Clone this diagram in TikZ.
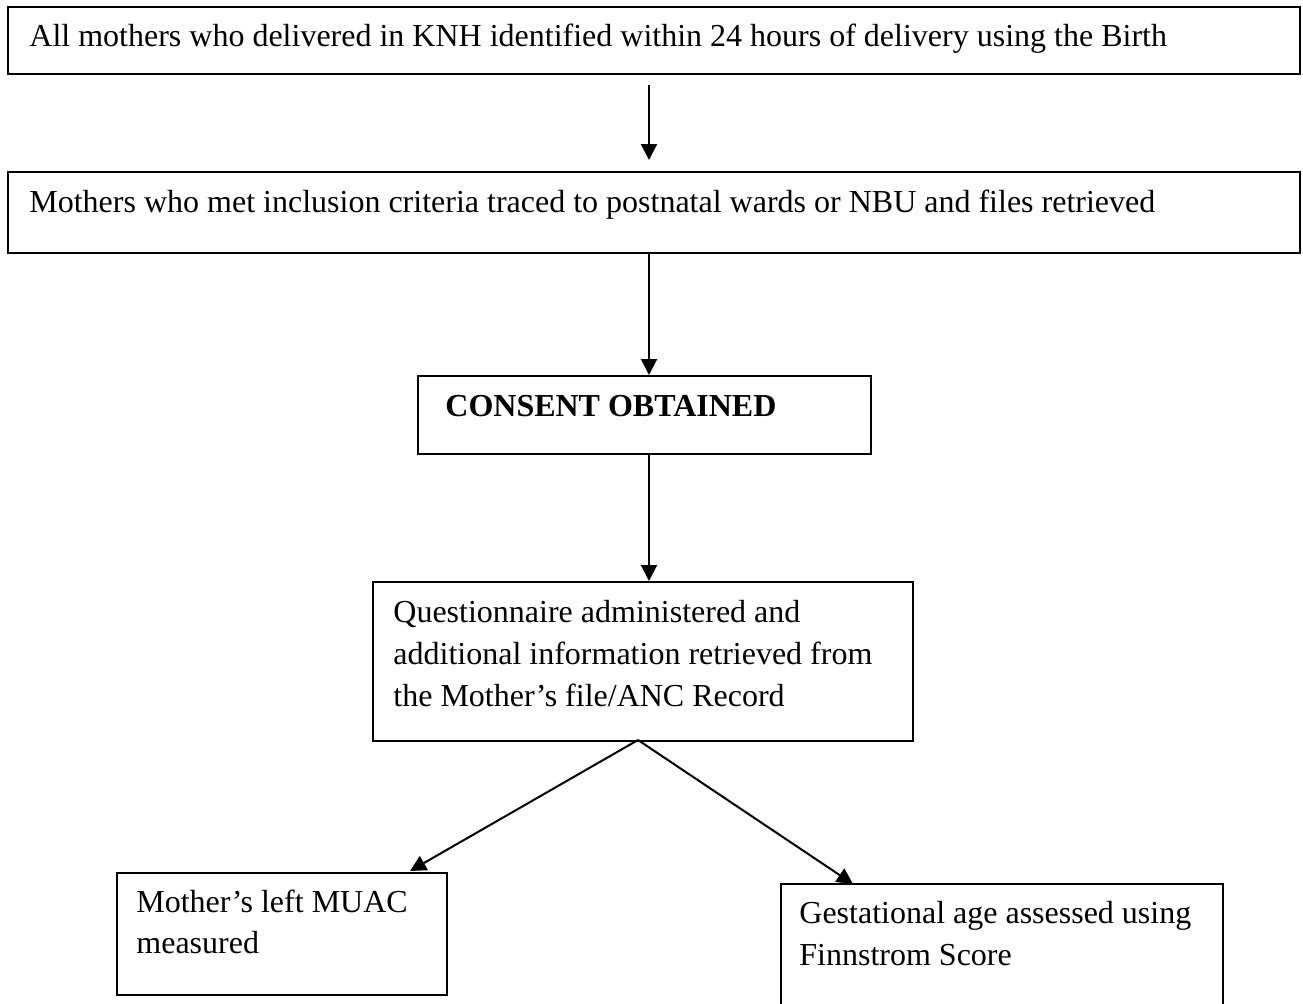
\documentclass[tikz,border=0pt]{standalone}
\usepackage{fontspec}
\setmainfont{Liberation Serif}
\usetikzlibrary{arrows.meta}
\tikzset{
  box/.style={draw, line width=1pt, anchor=north west, inner sep=0pt, fill=none},
  txt/.style={anchor=base west, inner sep=0pt, font=\fontsize{16}{21}\selectfont},
  conn/.style={line width=1pt, -{Triangle[width=8pt,length=8pt]}},
}
\begin{document}
\begin{tikzpicture}[x=0.5pt,y=-0.5pt]
\useasboundingbox (0,0) rectangle (1303,1003);
% boxes
\node[box, minimum width=646pt, minimum height=33.5pt] (b1) at (7,6) {};
\node[box, minimum width=646pt, minimum height=40.5pt] (b2) at (7,171) {};
\node[box, minimum width=226.5pt, minimum height=39pt] (b3) at (417,375) {};
\node[box, minimum width=270pt, minimum height=79.5pt] (b4) at (372,581) {};
\node[box, minimum width=165pt, minimum height=61pt] (b5) at (116,872) {};
\node[box, minimum width=221pt, minimum height=63.5pt] (b6) at (780,883) {};
% texts
\node[txt] (t1) at (29,46) {All mothers who delivered in KNH identified within 24 hours of delivery using the Birth};
\node[txt] (t2) at (29,212) {Mothers who met inclusion criteria traced to postnatal wards or NBU and files retrieved};
\node[txt, font=\fontsize{16}{21}\selectfont\bfseries] (t3) at (445,416) {CONSENT OBTAINED};
\node[txt] (t4a) at (393,622) {Questionnaire administered and};
\node[txt] (t4b) at (393,664) {additional information retrieved from};
\node[txt] (t4c) at (393,706) {the Mother’s file/ANC Record};
\node[txt] (t5a) at (136,912) {Mother’s left MUAC};
\node[txt] (t5b) at (136,953) {measured};
\node[txt] (t6a) at (799,923) {Gestational age assessed using};
\node[txt] (t6b) at (799,965) {Finnstrom Score};
% connector anchors
\coordinate (a1s) at (649,85);
\coordinate (a1e) at (649,160);
\coordinate (ax) at (649,0);
\coordinate (apex) at (638,740);
\coordinate (l5) at (410,871);
\coordinate (l6) at (853,884);
% connectors
\draw[conn] (a1s) -- (a1e);
\draw[conn] (b2.south -| ax) -- (b3.north -| ax);
\draw[conn] (b3.south -| ax) -- (b4.north -| ax);
\draw[conn] (apex) -- (l5);
\draw[conn] (apex) -- (l6);
\end{tikzpicture}
\end{document}
